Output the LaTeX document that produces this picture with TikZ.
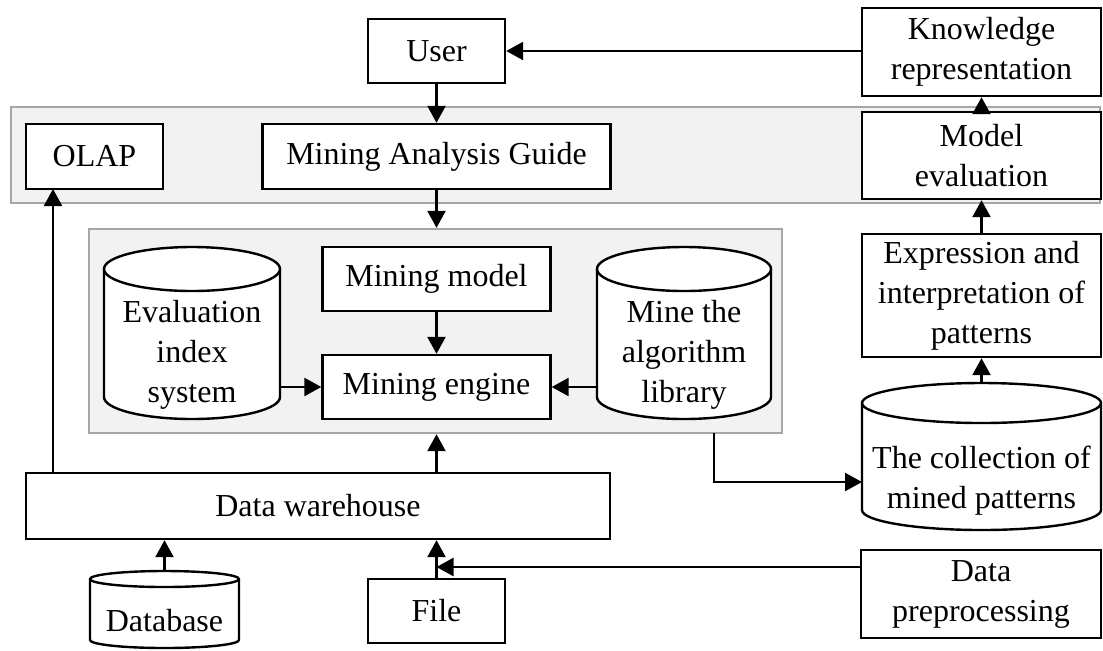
\documentclass[tikz,border=0pt]{standalone}
\usepackage{fontspec}
\setmainfont{Liberation Serif}
\usetikzlibrary{arrows.meta,calc}
\newcommand{\myfs}{\fontsize{16}{20}\selectfont}
\definecolor{bandfill}{HTML}{F2F2F2}
\definecolor{bandline}{HTML}{A6A6A6}
\begin{document}
\begin{tikzpicture}[x=0.5pt,y=-0.5pt,
  box/.style={draw, line width=1.2pt, fill=white, inner sep=0pt, align=center, font=\myfs},
  group/.style={draw=bandline, line width=1.2pt, fill=bandfill, inner sep=0pt},
  ghost/.style={draw=none, inner sep=0pt},
  txt/.style={inner sep=0pt, align=center, font=\myfs},
  cylline/.style={draw, line width=1.2pt, fill=white},
  arr/.style={line width=1.2pt, -{Triangle[length=8.5pt,width=9pt]}},
  ln/.style={line width=1.2pt}]
\useasboundingbox (0,0) rectangle (1103,650);
% groups
\node[group, minimum width=544.5pt, minimum height=48pt] (band) at (555.5,155) {};
\node[group, minimum width=346.5pt, minimum height=102pt] (core) at (435.5,331) {};
% boxes
\node[box, minimum width=68.5pt, minimum height=32pt] (user) at (436.5,51) {User};
\node[box, minimum width=119.5pt, minimum height=44pt] (know) at (981.5,52) {Knowledge\\representation};
\node[box, minimum width=68.5pt, minimum height=32.5pt] (olap) at (94.5,156.5) {OLAP};
\node[box, minimum width=174pt, minimum height=32.5pt] (mag) at (436.5,156.5) {Mining Analysis Guide};
\node[box, minimum width=119.5pt, minimum height=43.5pt] (meval) at (981.5,155.5) {Model\\evaluation};
\node[box, minimum width=114pt, minimum height=32pt] (mmodel) at (436.5,279) {Mining model};
\node[box, minimum width=114pt, minimum height=32pt] (engine) at (436.5,387) {Mining engine};
\node[box, minimum width=119.5pt, minimum height=61.5pt] (expr) at (981.5,295.5) {Expression and\\interpretation of\\patterns};
\node[box, minimum width=292pt, minimum height=33pt] (wh) at (318,506) {Data warehouse};
\node[box, minimum width=68.5pt, minimum height=32pt] (file) at (436.5,611) {File};
\node[box, minimum width=120pt, minimum height=44pt] (prep) at (981,594) {Data\\preprocessing};
% cylinders
% Evaluation index system: x 104-280, y 247-419, ry 22
\node[ghost, minimum width=88pt, minimum height=86pt] (eval) at (192,333) {};
\path[cylline] (104,269) -- (104,397) arc[start angle=180,end angle=360,x radius=44pt,y radius=11pt]
  -- (280,269) arc[start angle=0,end angle=180,x radius=44pt,y radius=11pt] -- cycle;
\draw[line width=1.2pt] (104,269) arc[start angle=180,end angle=360,x radius=44pt,y radius=11pt];
\node[txt] (evalt) at (192,355) {Evaluation\\index\\system};
% Mine the algorithm library: x 597-771
\node[ghost, minimum width=87pt, minimum height=86pt] (mine) at (684,333) {};
\path[cylline] (597,269) -- (597,397) arc[start angle=180,end angle=360,x radius=43.5pt,y radius=11pt]
  -- (771,269) arc[start angle=0,end angle=180,x radius=43.5pt,y radius=11pt] -- cycle;
\draw[line width=1.2pt] (597,269) arc[start angle=180,end angle=360,x radius=43.5pt,y radius=11pt];
\node[txt] (minet) at (684,355) {Mine the\\algorithm\\library};
% Collection: x 862-1101, y 383-530, ry 20
\node[ghost, minimum width=119.5pt, minimum height=73.5pt] (coll) at (981.5,456.5) {};
\path[cylline] (862,403) -- (862,510) arc[start angle=180,end angle=360,x radius=59.75pt,y radius=10pt]
  -- (1101,403) arc[start angle=0,end angle=180,x radius=59.75pt,y radius=10pt] -- cycle;
\draw[line width=1.2pt] (862,403) arc[start angle=180,end angle=360,x radius=59.75pt,y radius=10pt];
\node[txt] (collt) at (981.5,481) {The collection of\\mined patterns};
% Database: x 90-239, y 571-648, ry 8
\node[ghost, minimum width=74.5pt, minimum height=38.5pt] (db) at (164.5,609.5) {};
\path[cylline] (90,579) -- (90,640) arc[start angle=180,end angle=360,x radius=37.25pt,y radius=4pt]
  -- (239,579) arc[start angle=0,end angle=180,x radius=37.25pt,y radius=4pt] -- cycle;
\draw[line width=1.2pt] (90,579) arc[start angle=180,end angle=360,x radius=37.25pt,y radius=4pt];
\node[txt] (dbt) at (164.5,621) {Database};
% helper coordinates
\coordinate (olapin) at (53,189);
\coordinate (pj) at (436.5,567);
\coordinate (cj) at (714,433);
\coordinate (cin) at (862,482);
% connectors
\draw[arr] (know.west |- user.east) -- (user.east);
\draw[arr] (user.south) -- (mag.north);
\draw[arr] (mag.south) -- (mag.south |- core.north);
\draw[arr] (mmodel.south) -- (engine.north);
\draw[arr] (eval.east |- engine.west) -- (engine.west);
\draw[arr] (mine.west |- engine.east) -- (engine.east);
\draw[arr] (engine |- wh.north) -- (engine |- core.south);
\draw[arr] (olapin |- wh.north) -- (olapin);
\draw[arr] (db.north) -- (db.north |- wh.south);
\draw[arr] (file.north) -- (file.north |- wh.south);
\draw[arr] (prep.west |- pj) -- (pj);
\draw[arr] (cj) |- (cin);
\draw[arr] (coll.north) -- (expr.south);
\draw[arr] (expr.north) -- (meval.south);
\draw[arr] (meval.north) -- (know.south);
\end{tikzpicture}
\end{document}
